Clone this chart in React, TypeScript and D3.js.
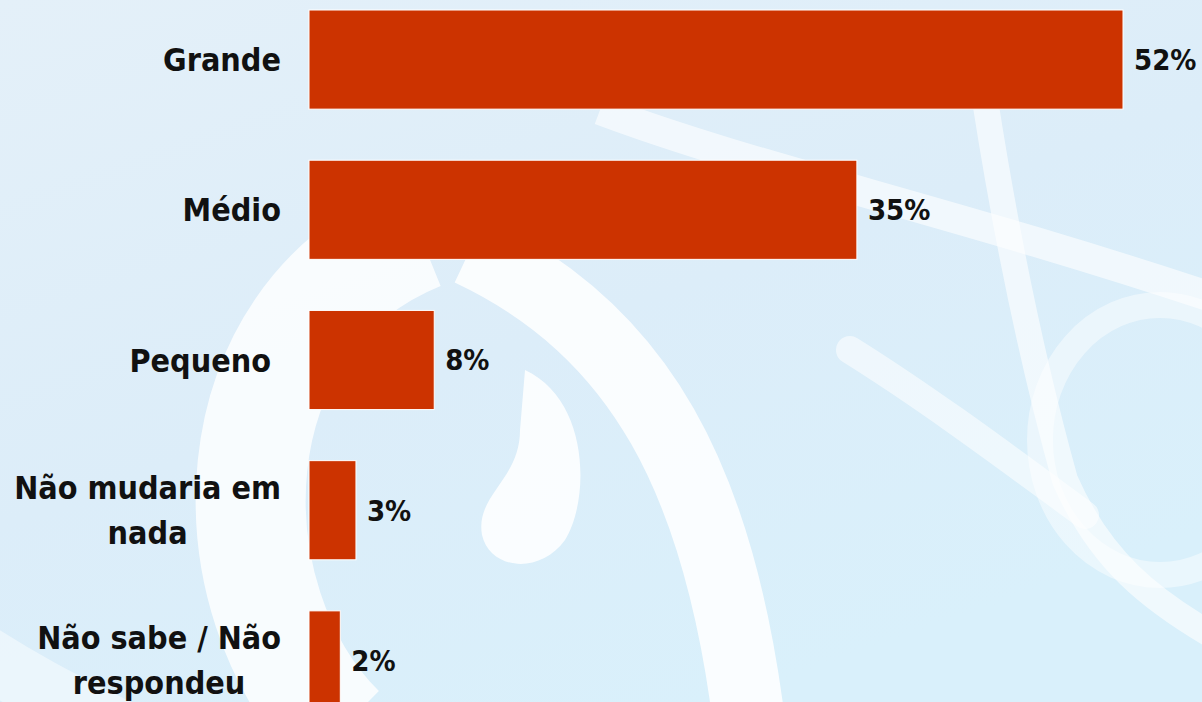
import React, { useEffect, useRef } from "react";
import * as d3 from "d3";

const categories = ["Grande", "Médio", "Pequeno ", "Não mudaria em|nada", "Não sabe / Não|respondeu"];
const values = [52, 35, 8, 3, 2];
const valueLabels = ["52%", "35%", "8%", "3%", "2%"];

const W = 1202;
const H = 702;

export default function App() {
  const ref = useRef<SVGSVGElement>(null);

  useEffect(() => {
    document.body.style.margin = "0";
    const svg = d3.select(ref.current);
    svg.selectAll("*").remove();

    const margin = { top: 10, left: 309, right: 79 };

    // background
    const defs = svg.append("defs");
    const grad = defs.append("linearGradient").attr("id", "bg").attr("x1", 0).attr("y1", 0).attr("x2", 0.6).attr("y2", 1);
    grad.append("stop").attr("offset", "0%").attr("stop-color", "#e4f0f9");
    grad.append("stop").attr("offset", "55%").attr("stop-color", "#dcedf9");
    grad.append("stop").attr("offset", "100%").attr("stop-color", "#d9f0fb");
    svg.append("rect").attr("width", W).attr("height", H).attr("fill", "url(#bg)");

    // soft white artwork behind the chart
    const deco = svg.append("g").attr("fill", "none").attr("stroke", "#ffffff").attr("stroke-linecap", "butt");
    // left crescent behind the lower labels
    deco.append("path")
      .attr("d", "M420,235 C210,320 210,600 340,730")
      .attr("stroke-width", 110).attr("stroke-opacity", 0.8);
    // lower-left corner
    deco.append("path")
      .attr("d", "M-40,640 C20,680 60,700 120,730")
      .attr("stroke-width", 60).attr("stroke-opacity", 0.45);
    // big arc going down
    deco.append("path")
      .attr("d", "M470,250 C640,330 720,480 750,730")
      .attr("stroke-width", 72).attr("stroke-opacity", 0.85);
    // teardrop
    svg.append("path")
      .attr("d", "M525,370 C590,400 590,500 565,540 C540,575 490,570 482,535 C475,495 520,480 520,430 Z")
      .attr("fill", "#ffffff").attr("fill-opacity", 0.85);
    // upper-right diagonals
    deco.append("path")
      .attr("d", "M600,110 C760,170 950,210 1220,300")
      .attr("stroke-width", 30).attr("stroke-opacity", 0.6);
    deco.append("path")
      .attr("d", "M985,100 C1010,260 1040,390 1065,480 C1100,560 1150,600 1220,640")
      .attr("stroke-width", 26).attr("stroke-opacity", 0.6);
    deco.append("path")
      .attr("d", "M850,350 C930,400 1010,460 1085,515")
      .attr("stroke-width", 28).attr("stroke-opacity", 0.55).attr("stroke-linecap", "round");
    deco.append("ellipse")
      .attr("cx", 1160).attr("cy", 440).attr("rx", 120).attr("ry", 135)
      .attr("stroke-width", 26).attr("stroke-opacity", 0.45);

    // 150px per category, bars about 99px tall
    const y = d3.scaleBand<number>()
      .domain(d3.range(categories.length))
      .range([margin.top, margin.top + 700])
      .paddingInner(0.34)
      .paddingOuter(0);
    const bandH = y.bandwidth();
    const yc = (i: number) => (y(i) as number) + bandH / 2;

    const x = d3.scaleLinear().domain([0, 52]).range([margin.left, W - margin.right]);

    const font = "'DejaVu Sans Condensed', 'DejaVu Sans', sans-serif";

    svg.append("g")
      .selectAll("rect")
      .data(values)
      .join("rect")
      .attr("x", x(0))
      .attr("y", (d, i) => y(i) as number)
      .attr("width", d => x(d) - x(0))
      .attr("height", bandH)
      .attr("fill", "#cc3300")
      .attr("stroke", "#ffffff")
      .attr("stroke-width", 1);

    svg.append("g")
      .selectAll("text")
      .data(valueLabels)
      .join("text")
      .attr("x", (d, i) => x(values[i]) + 11)
      .attr("y", (d, i) => yc(i))
      .attr("dy", "0.36em")
      .attr("font-family", font)
      .attr("font-weight", "bold")
      .attr("font-size", 29)
      .attr("fill", "#111")
      .text(d => d);

    // category labels: wrapped lines centred on each other, right edge at 281
    const lineH = 45;
    categories.forEach((c, i) => {
      const lines = c.split("|");
      const g = svg.append("g");
      const texts = g.selectAll("text")
        .data(lines)
        .join("text")
        .attr("x", 0)
        .attr("y", (d, j) => (j - (lines.length - 1) / 2) * lineH)
        .attr("dy", "0.36em")
        .attr("text-anchor", "middle")
        .attr("font-family", font)
        .attr("font-weight", "bold")
        .attr("font-size", 32)
        .attr("fill", "#111")
        .style("white-space", "pre")
        .text(d => d);
      let maxW = 0;
      texts.each(function () {
        maxW = Math.max(maxW, (this as SVGTextElement).getComputedTextLength());
      });
      g.attr("transform", `translate(${281 - maxW / 2},${yc(i)})`);
    });
  }, []);

  return <svg ref={ref} width={W} height={H} style={{ display: "block" }} />;
}
